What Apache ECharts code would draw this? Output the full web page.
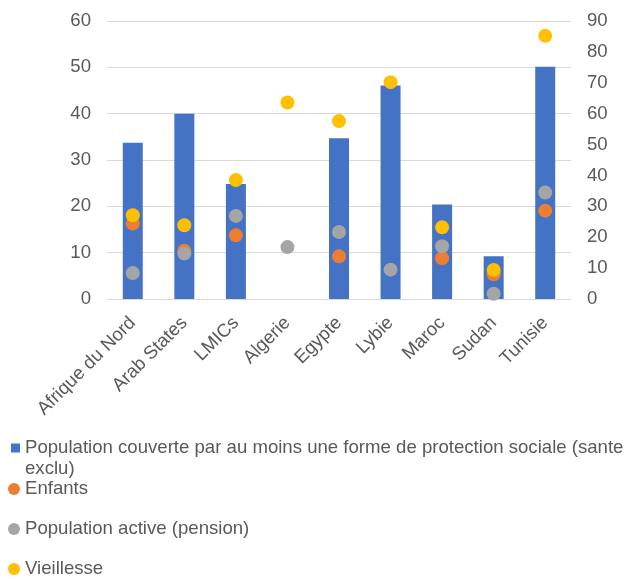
<!DOCTYPE html>
<html><head><meta charset="utf-8">
<script src="https://cdn.jsdelivr.net/npm/echarts@6/dist/echarts.min.js"></script>
<style>html,body{margin:0;padding:0;background:#fff}#c{width:625px;height:579px}</style>
</head><body><div id="c"></div>
<script>
var categories = ['Afrique du Nord','Arab States','LMICs','Algerie','Egypte','Lybie','Maroc','Sudan','Tunisie'];
var couverte = [33.7, 40, 24.8, null, 34.7, 46.1, 20.4, 9.2, 50.1];
var enfants = [24.4, 15.6, 20.6, null, 13.8, null, 13.2, 8.0, 28.6];
var active = [8.4, 14.7, 26.9, 16.8, 21.7, 9.5, 17.1, 1.7, 34.5];
var vieillesse = [27.1, 23.9, 38.5, 63.6, 57.6, 70.2, 23.2, 9.4, 85.2];
var names = ['Population couverte par au moins une forme de protection sociale (sante exclu)','Enfants','Population active (pension)','Vieillesse'];

var FONT = "'Liberation Sans', Arial, sans-serif";
var FS = 18.6;
var TXT = '#595959';
var chart = echarts.init(document.getElementById('c'), null, {renderer:'canvas'});
function lg(name, icon, w, h, left, top, lh){
  return {data:[{name:name, icon:icon}], left:left, top:top, padding:0, itemWidth:w, itemHeight:h, itemGap:0,
    textStyle:{fontFamily:FONT, fontSize:FS, color:TXT, lineHeight:lh || 20}, selectedMode:false};
}
var leg0 = lg(names[0],'rect',9,9,11,448-31.5,21);
leg0.formatter = function(n){ return '\nPopulation couverte par au moins une forme de protection sociale (sante\nexclu)'; };
chart.setOption({
  animation:false,
  color:['#4472C4','#ED7D31','#A5A5A5','#FFC000'],
  grid:{left:107, right:54, top:21, bottom:280, containLabel:false},
  legend:[
    leg0,
    lg(names[1],'circle',12,12,8,479),
    lg(names[2],'circle',12,12,8,519),
    lg(names[3],'circle',12,12,8,559)
  ],
  xAxis:{type:'category', data:categories, axisLine:{show:false}, axisTick:{show:false},
    axisLabel:{rotate:45, interval:0, margin:21, fontFamily:FONT, fontSize:FS, color:TXT}},
  yAxis:[
    {type:'value', min:0, max:60, interval:10, axisLine:{show:false}, axisTick:{show:false},
      splitLine:{lineStyle:{color:'#d9d9d9', width:1}},
      axisLabel:{margin:16, fontFamily:FONT, fontSize:FS, color:TXT}},
    {type:'value', min:0, max:90, interval:10, axisLine:{show:false}, axisTick:{show:false},
      splitLine:{show:false},
      axisLabel:{margin:16, fontFamily:FONT, fontSize:FS, color:TXT}}
  ],
  series:[
    {name:names[0], type:'bar', data:couverte, barWidth:20, yAxisIndex:0, itemStyle:{color:'#4472C4'}},
    {name:names[1], type:'scatter', data:enfants, yAxisIndex:1, symbolSize:14, itemStyle:{color:'#ED7D31', opacity:1}, z:3},
    {name:names[2], type:'scatter', data:active, yAxisIndex:1, symbolSize:14, itemStyle:{color:'#A5A5A5', opacity:1}, z:4},
    {name:names[3], type:'scatter', data:vieillesse, yAxisIndex:1, symbolSize:14, itemStyle:{color:'#FFC000', opacity:1}, z:5}
  ]
});
</script></body></html>
